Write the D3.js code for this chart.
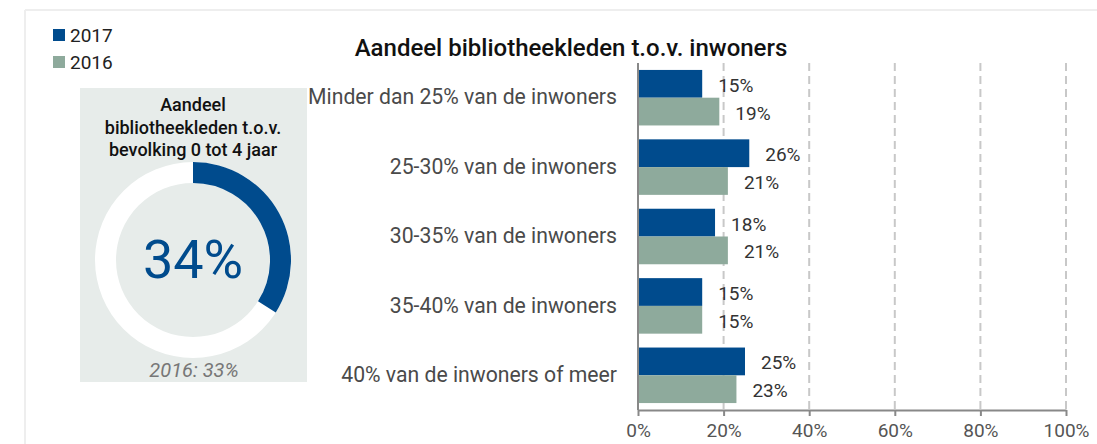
<!DOCTYPE html>
<html>
<head>
<meta charset="utf-8">
<script src="https://cdn.jsdelivr.net/npm/d3@7"></script>
<style>
  body { margin: 0; background: #fff; }
  svg { display: block; font-family: Roboto, "Noto Sans", sans-serif; }
</style>
</head>
<body>
<div id="chart"></div>
<script>
// data
const categories = [
  "Minder dan 25% van de inwoners",
  "25-30% van de inwoners",
  "30-35% van de inwoners",
  "35-40% van de inwoners",
  "40% van de inwoners of meer"
];
const years = ["2017", "2016"];
const values2017 = [15, 26, 18, 15, 25];
const values2016 = [19, 21, 21, 15, 23];
const xTicks = [0, 20, 40, 60, 80, 100];

const donutValue = 34;
const donutPrevLabel = "2016: 33%";
const donutTitle = ["Aandeel", "bibliotheekleden t.o.v.", "bevolking 0 tot 4 jaar"];
const chartTitle = "Aandeel bibliotheekleden t.o.v. inwoners";

const width = 1097, height = 444;
const colors = { "2017": "#004b8d", "2016": "#8eaa9c" };

const svg = d3.select("#chart")
  .append("svg")
  .attr("width", width)
  .attr("height", height);

// frame lines
svg.append("line")
  .attr("x1", 25).attr("x2", width).attr("y1", 10).attr("y2", 10)
  .attr("stroke", "#eeeeee").attr("stroke-width", 2);
svg.append("line")
  .attr("x1", 25).attr("x2", 25).attr("y1", 10).attr("y2", height)
  .attr("stroke", "#eeeeee").attr("stroke-width", 2);

// legend
const legend = svg.append("g");
years.forEach((y, i) => {
  legend.append("rect")
    .attr("x", 53).attr("y", 29 + i * 27)
    .attr("width", 12).attr("height", 12)
    .attr("fill", colors[y]);
  legend.append("text")
    .attr("x", 70).attr("y", 42 + i * 27)
    .attr("font-size", 19).attr("fill", "#222")
    .text(y);
});

// left panel with donut
const panel = svg.append("g");
panel.append("rect")
  .attr("x", 80).attr("y", 88)
  .attr("width", 227).attr("height", 294)
  .attr("fill", "#e7ecea");

panel.selectAll(".ptitle")
  .data(donutTitle)
  .enter()
  .append("text")
    .attr("class", "ptitle")
    .attr("x", 193)
    .attr("y", (d, i) => 111 + i * 22.5)
    .attr("text-anchor", "middle")
    .attr("font-size", 18)
    .attr("font-weight", 500)
    .attr("fill", "#111")
    .text(d => d);

const cx = 193, cy = 260;
const arc = d3.arc().innerRadius(77).outerRadius(98);
const donut = panel.append("g").attr("transform", `translate(${cx},${cy})`);
donut.append("path")
  .attr("d", arc({ startAngle: 0, endAngle: 2 * Math.PI }))
  .attr("fill", "#ffffff");
donut.append("path")
  .attr("d", arc({ startAngle: 0, endAngle: 2 * Math.PI * donutValue / 100 }))
  .attr("fill", colors["2017"]);
donut.append("text")
  .attr("y", 18)
  .attr("text-anchor", "middle")
  .attr("font-size", 54)
  .attr("fill", colors["2017"])
  .text(donutValue + "%");

panel.append("text")
  .attr("x", 194).attr("y", 377)
  .attr("text-anchor", "middle")
  .attr("font-size", 20)
  .attr("font-style", "italic")
  .attr("fill", "#777")
  .text(donutPrevLabel);

// bar chart
const margin = { top: 63, bottom: 410, left: 638, right: 1066 };

svg.append("text")
  .attr("x", 571).attr("y", 56)
  .attr("text-anchor", "middle")
  .attr("font-size", 24)
  .attr("font-weight", 500)
  .attr("fill", "#111")
  .text(chartTitle);

const xScale = d3.scaleLinear()
  .domain([0, 100])
  .range([margin.left, margin.right]);

const yScale = d3.scaleBand()
  .domain(categories)
  .range([margin.top, margin.bottom])
  .paddingInner(0.2)
  .paddingOuter(0.1);

const ySub = d3.scaleBand()
  .domain(years)
  .range([0, yScale.bandwidth()]);

// dashed grid
svg.append("g")
  .selectAll("line")
  .data(xTicks.slice(1))
  .enter()
  .append("line")
    .attr("x1", d => xScale(d)).attr("x2", d => xScale(d))
    .attr("y1", margin.top).attr("y2", margin.bottom)
    .attr("stroke", "#c8c8c8")
    .attr("stroke-width", 2)
    .attr("stroke-dasharray", "8,5");

// x axis
const xAxis = svg.append("g")
  .attr("transform", `translate(0,${margin.bottom})`)
  .call(d3.axisBottom(xScale)
    .tickValues(xTicks)
    .tickFormat(d => d + "%")
    .tickSize(6)
    .tickSizeOuter(0)
    .tickPadding(8));
xAxis.select(".domain").attr("stroke", "#888").attr("stroke-width", 2);
xAxis.selectAll(".tick line").attr("stroke", "#888").attr("stroke-width", 2);
xAxis.selectAll("text")
  .attr("font-size", 19)
  .attr("font-family", "Roboto, sans-serif")
  .attr("fill", "#555");

// y axis
const yAxis = svg.append("g")
  .attr("transform", `translate(${margin.left},0)`)
  .call(d3.axisLeft(yScale).tickSize(0).tickPadding(21).tickSizeOuter(0));
yAxis.select(".domain")
  .attr("d", `M0,${margin.top}V${margin.bottom}`)
  .attr("stroke", "#888").attr("stroke-width", 2);
yAxis.selectAll("text")
  .attr("font-size", 21.2)
  .attr("font-family", "Roboto, sans-serif")
  .attr("fill", "#4a4a4a");

// bars
const rows = categories.map((c, i) => ({
  cat: c,
  items: [
    { year: "2017", value: values2017[i] },
    { year: "2016", value: values2016[i] }
  ]
}));

const groups = svg.selectAll(".grp")
  .data(rows)
  .enter()
  .append("g")
    .attr("class", "grp")
    .attr("transform", d => `translate(0,${yScale(d.cat)})`);

groups.selectAll("rect")
  .data(d => d.items)
  .enter()
  .append("rect")
    .attr("x", xScale(0) + 1)
    .attr("y", d => ySub(d.year))
    .attr("width", d => xScale(d.value) - xScale(0) - 1)
    .attr("height", ySub.bandwidth())
    .attr("fill", d => colors[d.year]);

groups.selectAll(".val")
  .data(d => d.items)
  .enter()
  .append("text")
    .attr("class", "val")
    .attr("x", d => xScale(d.value) + 16)
    .attr("y", d => ySub(d.year) + ySub.bandwidth() / 2 + 8)
    .attr("font-size", 19)
    .attr("fill", "#333")
    .text(d => d.value + "%");
</script>
</body>
</html>
